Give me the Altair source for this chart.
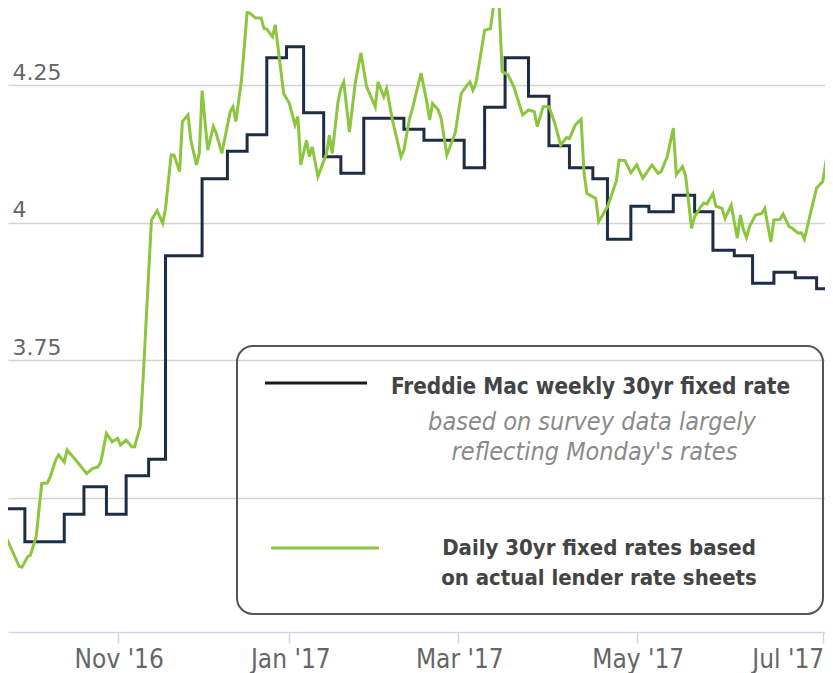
import altair as alt
import pandas as pd

# Freddie Mac weekly 30yr fixed rate
fm_dates = ["2016-09-22", "2016-09-29", "2016-10-13", "2016-10-20", "2016-10-28",
            "2016-11-04", "2016-11-12", "2016-11-18", "2016-12-01", "2016-12-10",
            "2016-12-17", "2016-12-24", "2016-12-31", "2017-01-06", "2017-01-13",
            "2017-01-19", "2017-01-27", "2017-02-10", "2017-02-17", "2017-03-03",
            "2017-03-10", "2017-03-17", "2017-03-25", "2017-04-01", "2017-04-08",
            "2017-04-16", "2017-04-21", "2017-04-29", "2017-05-05", "2017-05-13",
            "2017-05-20", "2017-05-26", "2017-06-02", "2017-06-08", "2017-06-15",
            "2017-06-22", "2017-06-29", "2017-07-06", "2017-07-07"]
fm_rates = [3.48, 3.42, 3.47, 3.52, 3.47, 3.54, 3.57, 3.94, 4.08, 4.13,
            4.16, 4.30, 4.32, 4.20, 4.12, 4.09, 4.19, 4.17, 4.15, 4.10,
            4.21, 4.30, 4.23, 4.14, 4.10, 4.08, 3.97, 4.03, 4.02, 4.05,
            4.02, 3.95, 3.94, 3.89, 3.91, 3.90, 3.88, 3.96, 3.96]

# Daily 30yr fixed rates
daily_dates = [
    "2016-09-22", "2016-09-27", "2016-09-28", "2016-09-30", "2016-10-01", "2016-10-03",
    "2016-10-05", "2016-10-07", "2016-10-08", "2016-10-10", "2016-10-11", "2016-10-13",
    "2016-10-14", "2016-10-17", "2016-10-21", "2016-10-23", "2016-10-25", "2016-10-26",
    "2016-10-28", "2016-10-30", "2016-11-01", "2016-11-02", "2016-11-04", "2016-11-06",
    "2016-11-07", "2016-11-09", "2016-11-10", "2016-11-13", "2016-11-15", "2016-11-17",
    "2016-11-18", "2016-11-20", "2016-11-21", "2016-11-23", "2016-11-24", "2016-11-26",
    "2016-11-27", "2016-11-29", "2016-11-30", "2016-12-01", "2016-12-03", "2016-12-05",
    "2016-12-06", "2016-12-08", "2016-12-11", "2016-12-12", "2016-12-13", "2016-12-15",
    "2016-12-17", "2016-12-18", "2016-12-20", "2016-12-22", "2016-12-23", "2016-12-24",
    "2016-12-26", "2016-12-27", "2016-12-30", "2017-01-01", "2017-01-03", "2017-01-04",
    "2017-01-05", "2017-01-07", "2017-01-08", "2017-01-09", "2017-01-11", "2017-01-14",
    "2017-01-15", "2017-01-16", "2017-01-18", "2017-01-19", "2017-01-20", "2017-01-22",
    "2017-01-24", "2017-01-26", "2017-01-28", "2017-01-31", "2017-02-01", "2017-02-03",
    "2017-02-04", "2017-02-06", "2017-02-09", "2017-02-10", "2017-02-12", "2017-02-13",
    "2017-02-16", "2017-02-18", "2017-02-19", "2017-02-20", "2017-02-22", "2017-02-23",
    "2017-02-25", "2017-02-27", "2017-02-28", "2017-03-02", "2017-03-04", "2017-03-05",
    "2017-03-06", "2017-03-07", "2017-03-09", "2017-03-10", "2017-03-12", "2017-03-13",
    "2017-03-15", "2017-03-16", "2017-03-18", "2017-03-20", "2017-03-23", "2017-03-25",
    "2017-03-27", "2017-03-28", "2017-03-30", "2017-04-01", "2017-04-03", "2017-04-05",
    "2017-04-07", "2017-04-08", "2017-04-10", "2017-04-12", "2017-04-13", "2017-04-14",
    "2017-04-17", "2017-04-18", "2017-04-21", "2017-04-24", "2017-04-25", "2017-04-27",
    "2017-04-29", "2017-05-01", "2017-05-03", "2017-05-06", "2017-05-08", "2017-05-09",
    "2017-05-11", "2017-05-13", "2017-05-14", "2017-05-16", "2017-05-17", "2017-05-19",
    "2017-05-20", "2017-05-22", "2017-05-23", "2017-05-24", "2017-05-26", "2017-05-27",
    "2017-05-29", "2017-05-30", "2017-06-01", "2017-06-03", "2017-06-04", "2017-06-05",
    "2017-06-06", "2017-06-07", "2017-06-09", "2017-06-11", "2017-06-12", "2017-06-14",
    "2017-06-15", "2017-06-17", "2017-06-18", "2017-06-20", "2017-06-21", "2017-06-23",
    "2017-06-24", "2017-06-25", "2017-06-27", "2017-06-29", "2017-07-01", "2017-07-03",
    "2017-07-05", "2017-07-06", "2017-07-07"]
daily_rates = [
    3.432, 3.375, 3.374, 3.393, 3.396, 3.429,
    3.526, 3.527, 3.538, 3.569, 3.578, 3.565,
    3.587, 3.569, 3.544, 3.553, 3.556, 3.565,
    3.617, 3.602, 3.608, 3.596, 3.605, 3.593,
    3.593, 3.629, 3.714, 4.005, 4.022, 3.999,
    4.026, 4.123, 4.123, 4.093, 4.184, 4.196,
    4.150, 4.105, 4.126, 4.240, 4.132, 4.175,
    4.163, 4.126, 4.202, 4.211, 4.184, 4.259,
    4.382, 4.381, 4.372, 4.372, 4.353, 4.352,
    4.338, 4.360, 4.235, 4.217, 4.178, 4.193,
    4.105, 4.150, 4.120, 4.138, 4.084, 4.126,
    4.159, 4.126, 4.220, 4.244, 4.256, 4.165,
    4.253, 4.309, 4.247, 4.211, 4.256, 4.229,
    4.244, 4.187, 4.120, 4.132, 4.190, 4.208,
    4.272, 4.220, 4.187, 4.217, 4.205, 4.190,
    4.123, 4.150, 4.165, 4.235, 4.250, 4.256,
    4.241, 4.253, 4.317, 4.350, 4.353, 4.393,
    4.393, 4.275, 4.269, 4.247, 4.196, 4.205,
    4.202, 4.175, 4.211, 4.211, 4.181, 4.141,
    4.155, 4.153, 4.178, 4.188, 4.090, 4.053,
    4.044, 4.002, 4.029, 4.075, 4.114, 4.113,
    4.091, 4.105, 4.081, 4.105, 4.090, 4.093,
    4.120, 4.172, 4.087, 4.102, 4.087, 3.990,
    4.011, 4.029, 4.036, 4.034, 4.053, 4.030,
    4.026, 4.008, 4.032, 3.972, 4.014, 3.987,
    3.973, 3.993, 4.014, 4.017, 4.026, 3.965,
    4.005, 4.006, 4.016, 3.993, 3.990, 3.981,
    3.982, 3.970, 4.017, 4.063, 4.075, 4.114,
    4.115, 4.132, 4.145]

tick_dates = ["2016-11-01", "2017-01-01", "2017-03-01", "2017-05-01", "2017-07-01"]
y_ticks = [3.5, 3.75, 4.0, 4.25]

legend_fm_title = "Freddie Mac weekly 30yr fixed rate"
legend_fm_note = ["based on survey data largely", "reflecting Monday's rates"]
legend_daily = ["Daily 30yr fixed rates based", "on actual lender rate sheets"]

NAVY = "#1c2d44"
GREEN = "#8cc63e"
NARROW = "Liberation Sans Narrow, DejaVu Sans Condensed, Arial Narrow, sans-serif"


def ms(dates):
    return [int(pd.Timestamp(s, tz="UTC").value // 10**6) for s in dates]


# The source axis is ordinal (trading days), so its months are not evenly spaced;
# a piecewise scale (dates as UTC milliseconds) reproduces that spacing.
x_domain = ["2016-09-23", "2016-11-01", "2017-01-01", "2017-03-01",
            "2017-05-01", "2017-07-01", "2017-07-06", "2017-07-07"]
x_range = [0, 109.7, 281.3, 450.3, 628.7, 814.7, 823.5, 825]

x_scale = alt.Scale(type="linear", domain=ms(x_domain), range=x_range, nice=False, zero=False)
y_scale = alt.Scale(domain=[3.256, 4.3904], nice=False, zero=False)

x_axis = alt.Axis(
    values=ms(tick_dates),
    labelExpr='utcFormat(datum.value, "%b \'%y")',
    title=None, grid=False,
    domainColor="#ccd6eb", domainWidth=1.5,
    tickColor="#ccd6eb", tickWidth=1.5, tickSize=11,
    labelFont=NARROW, labelFontSize=26, labelColor="#666666",
    labelPadding=3, labelOffset=1,
    labelFlush=12, labelFlushOffset=0,
)
y_axis = alt.Axis(
    values=y_ticks, title=None, domain=False, ticks=False, tickSize=0,
    grid=True, gridColor="#d4d4d4", gridWidth=1.5,
    labelExpr="datum.value == 3.5 ? '' : '' + datum.value",
    labelAlign="left", labelBaseline="alphabetic", labelPadding=-4, labelOffset=-6,
    labelFont="DejaVu Sans", labelFontSize=22, labelColor="#666666",
)

fm = pd.DataFrame({"t": ms(fm_dates), "rate": fm_rates})
daily = pd.DataFrame({"t": ms(daily_dates), "rate": daily_rates})
one = pd.DataFrame({"k": [0]})

fm_line = alt.Chart(fm).mark_line(
    interpolate="step-after", color=NAVY, strokeWidth=3
).encode(
    x=alt.X("t:Q", scale=x_scale, axis=x_axis),
    y=alt.Y("rate:Q", scale=y_scale, axis=y_axis),
)
daily_line = alt.Chart(daily).mark_line(color=GREEN, strokeWidth=3).encode(
    x=alt.X("t:Q"),
    y=alt.Y("rate:Q"),
)

box = alt.Chart(one).mark_rect(
    cornerRadius=16, fillOpacity=0, stroke="#555555", strokeWidth=2
).encode(x=alt.value(229), x2=alt.value(815), y=alt.value(338), y2=alt.value(606))

sample_fm = alt.Chart(one).mark_rule(color="#1a1a1a", strokeWidth=3).encode(
    x=alt.value(257), x2=alt.value(359), y=alt.value(375))
sample_daily = alt.Chart(one).mark_rule(color=GREEN, strokeWidth=3).encode(
    x=alt.value(263), x2=alt.value(371), y=alt.value(540))


def label(text, x, y, size, italic=False, color="#444444"):
    return alt.Chart(one).mark_text(
        text=text, font=NARROW, fontSize=size,
        fontWeight="normal" if italic else "bold",
        fontStyle="italic" if italic else "normal",
        color=color, align="center", baseline="middle",
    ).encode(x=alt.value(x), y=alt.value(y))


texts = [
    label(legend_fm_title, 582.5, 379, 22.4),
    label(legend_fm_note[0], 584, 413.7, 25, italic=True, color="#8a8a8a"),
    label(legend_fm_note[1], 586.5, 443.7, 25, italic=True, color="#8a8a8a"),
    label(legend_daily[0], 591, 540, 22),
    label(legend_daily[1], 591, 570, 22),
]

chart = alt.layer(fm_line, daily_line, box, sample_fm, sample_daily, *texts).properties(
    width=817, height=624,
    autosize=alt.AutoSizeParams(type="none"),
    padding={"left": 0, "top": 0, "right": 0, "bottom": 41},
    background="white",
).configure_view(stroke=None)

chart.save("out.html", embed_options={"renderer": "svg", "actions": False})
